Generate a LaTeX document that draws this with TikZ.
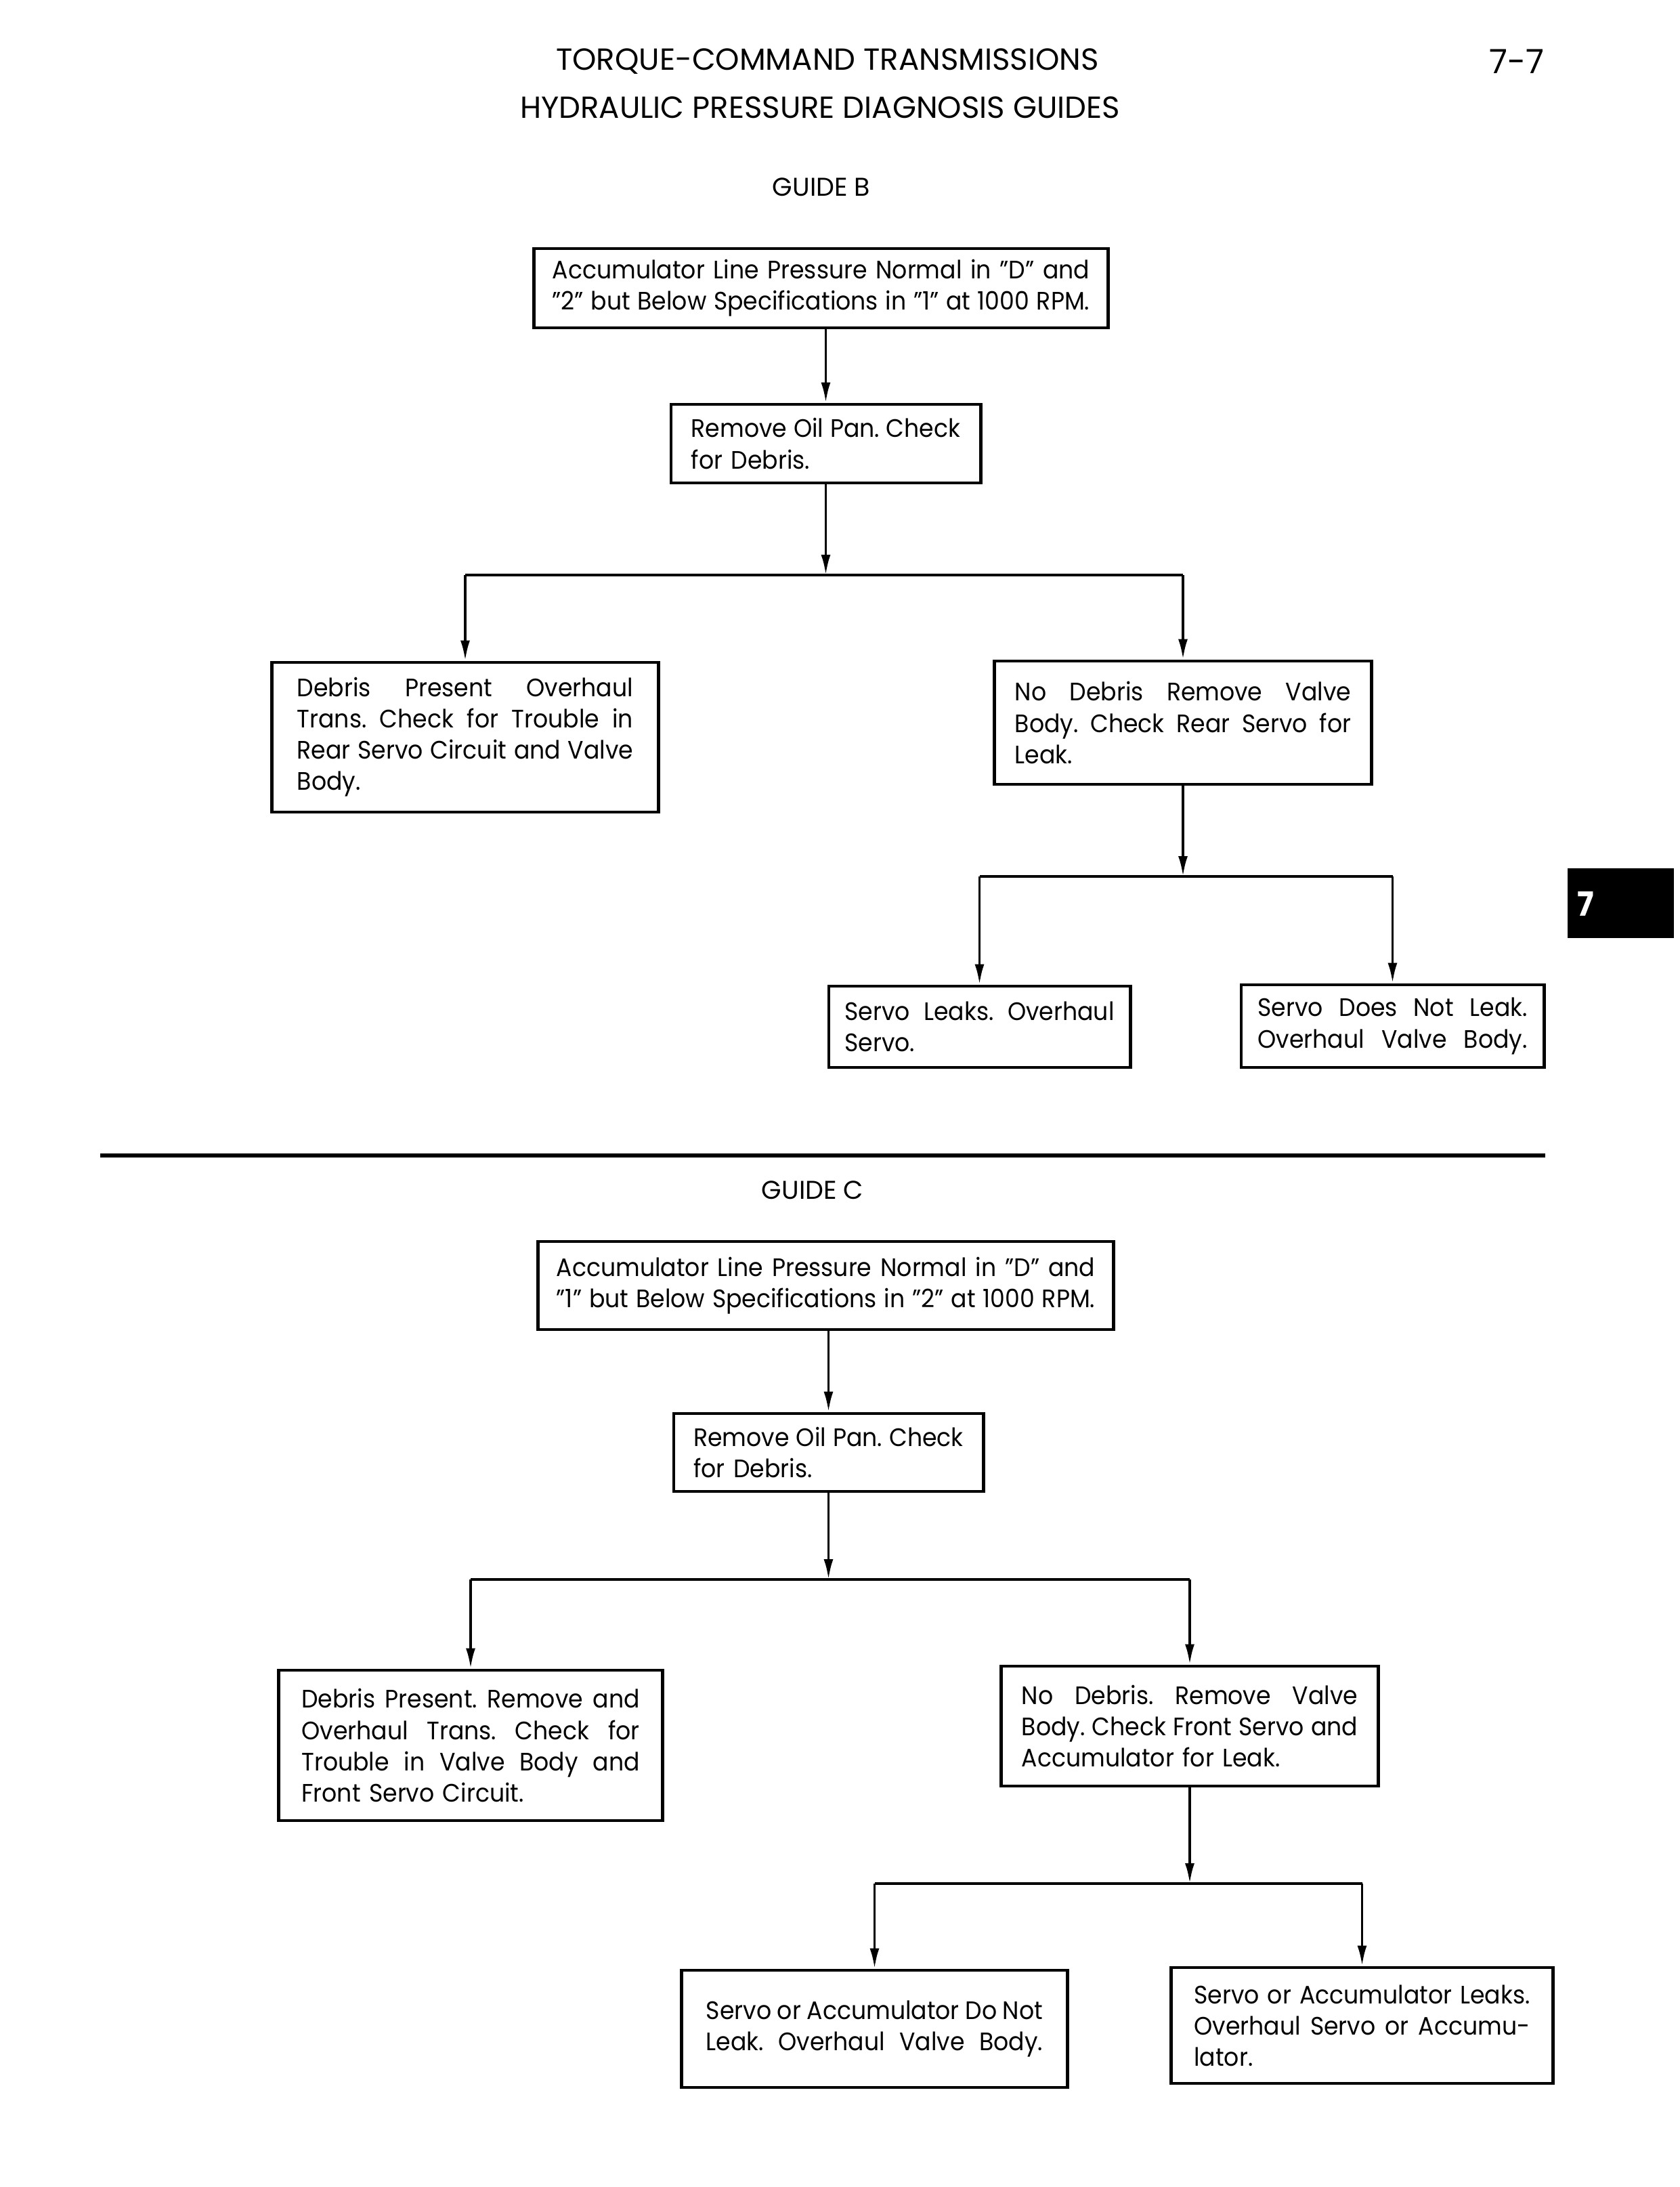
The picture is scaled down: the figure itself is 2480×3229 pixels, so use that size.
\documentclass[tikz,border=0pt]{standalone}
\usepackage{fontspec}
\setmainfont{Poppins}
\newfontfamily\condfont[FakeStretch=0.93]{Poppins}
\usetikzlibrary{arrows.meta,calc}
\newcommand\jl[1]{\makebox[\linewidth][s]{\spaceskip=0pt\xspaceskip=0pt #1}}
\newcommand\bodyfont{\condfont\fontsize{10.6}{13.1}\selectfont\frenchspacing}
\tikzset{
  box/.style={draw, line width=1.35pt, inner sep=0pt, font=\bodyfont, align=left},
  conn/.style={line width=1.05pt},
  branch/.style={line width=1.4pt},
  arr/.style={conn, -{Latex[length=0.3cm,width=0.14cm]}},
  title/.style={font=\fontsize{12.8}{15}\selectfont, inner sep=0pt},
  head/.style={font=\fontsize{10.8}{13}\selectfont, inner sep=0pt},
}
\begin{document}
\begin{tikzpicture}[x=0.01cm,y=-0.01cm]
\useasboundingbox (0,0) rectangle (2480,3229);
\fill[white] (0,0) rectangle (2480,3229);
% headings
\node[title] (t1) at (1222,91) {TORQUE-COMMAND TRANSMISSIONS};
\node[title] (t2) at (1211,159) {HYDRAULIC PRESSURE DIAGNOSIS GUIDES};
\node[title, font=\fontsize{14}{16}\selectfont] (pg) at (2240,91) {7-7};
\node[head] (gb) at (1213,276) {GUIDE B};
\node[head] (gc) at (1200,1757) {GUIDE C};
% tab
\node[fill=black, minimum width=1.57cm, minimum height=1.03cm, inner sep=0pt] (tab) at (2393.5,1333.5) {};
\node[text=white, font=\condfont\fontsize{14}{16}\bfseries\selectfont, inner sep=0pt] (tab7) at (2342,1335) {7};
% rule
\coordinate (rl) at (148,1706);
\coordinate (rr) at (2282,1706);
\draw[line width=1.5pt] (rl) -- (rr);
% Guide B
\node[box, minimum width=8.47cm, minimum height=1.17cm, text width=7.93cm] (b1) at (1212.5,425.5)
 {\jl{Accumulator Line Pressure Normal in ”D” and}\\\jl{”2” but Below Specifications in ”1” at 1000 RPM.}};
\node[box, minimum width=4.57cm, minimum height=1.16cm, text width=3.97cm] (b2) at (1219.5,655)
 {\jl{Remove Oil Pan. Check}\\for Debris.};
\node[box, minimum width=5.70cm, minimum height=2.21cm, text width=4.96cm] (b3) at (687,1088.5)
 {\jl{Debris Present Overhaul}\\\jl{Trans. Check for Trouble in}\\\jl{Rear Servo Circuit and Valve}\\Body.};
\node[box, minimum width=5.56cm, minimum height=1.82cm, text width=4.96cm] (b4) at (1747,1067)
 {\jl{No Debris Remove Valve}\\\jl{Body. Check Rear Servo for}\\Leak.};
\node[box, minimum width=4.45cm, minimum height=1.20cm, text width=3.98cm] (b5) at (1446.5,1516)
 {\jl{Servo Leaks. Overhaul}\\Servo.};
\node[box, minimum width=4.47cm, minimum height=1.22cm, text width=3.98cm] (b6) at (2056.5,1515)
 {\jl{Servo Does Not Leak.}\\\jl{Overhaul Valve Body.}};
% Guide C
\node[box, minimum width=8.49cm, minimum height=1.30cm, text width=7.95cm] (c1) at (1219.5,1898)
 {\jl{Accumulator Line Pressure Normal in ”D” and}\\\jl{”1” but Below Specifications in ”2” at 1000 RPM.}};
\node[box, minimum width=4.57cm, minimum height=1.15cm, text width=3.98cm] (c2) at (1223.5,2144.5)
 {\jl{Remove Oil Pan. Check}\\for Debris.};
\node[box, minimum width=5.66cm, minimum height=2.22cm, text width=4.99cm] (c3) at (695,2577)
 {\jl{Debris Present. Remove and}\\\jl{Overhaul Trans. Check for}\\\jl{Trouble in Valve Body and}\\Front Servo Circuit.};
\node[box, minimum width=5.56cm, minimum height=1.77cm, text width=4.96cm] (c4) at (1757,2548.5)
 {\jl{No Debris. Remove Valve}\\\jl{Body. Check Front Servo and}\\Accumulator for Leak.};
\node[box, minimum width=5.69cm, minimum height=1.73cm, text width=4.97cm] (c5) at (1291.5,2995.5)
 {\jl{Servo or Accumulator Do Not}\\\jl{Leak. Overhaul Valve Body.}};
\node[box, minimum width=5.63cm, minimum height=1.71cm, text width=4.96cm] (c6) at (2011.5,2990.5)
 {\jl{Servo or Accumulator Leaks.}\\\jl{Overhaul Servo or Accumu-}\\lator.};
% junction levels
\coordinate (yb1) at (0,849);
\coordinate (yb2) at (0,1294);
\coordinate (yc1) at (0,2332);
\coordinate (yc2) at (0,2781);
% connectors B
\draw[arr] (b1.south -| b2.north) -- (b2.north);
\draw[arr] (b2.south) -- (b2.south |- yb1);
\draw[branch] (b3.north |- yb1) -- (b4.north |- yb1);
\draw[arr] (b3.north |- yb1) -- (b3.north);
\draw[arr] (b4.north |- yb1) -- (b4.north);
\draw[arr] (b4.south) -- (b4.south |- yb2);
\draw[branch] (b5.north |- yb2) -- (b6.north |- yb2);
\draw[arr] (b5.north |- yb2) -- (b5.north);
\draw[arr] (b6.north |- yb2) -- (b6.north);
% connectors C
\draw[arr] (c1.south -| c2.north) -- (c2.north);
\draw[arr] (c2.south) -- (c2.south |- yc1);
\draw[branch] (c3.north |- yc1) -- (c4.north |- yc1);
\draw[arr] (c3.north |- yc1) -- (c3.north);
\draw[arr] (c4.north |- yc1) -- (c4.north);
\draw[arr] (c4.south) -- (c4.south |- yc2);
\draw[branch] (c5.north |- yc2) -- (c6.north |- yc2);
\draw[arr] (c5.north |- yc2) -- (c5.north);
\draw[arr] (c6.north |- yc2) -- (c6.north);
\end{tikzpicture}
\end{document}
